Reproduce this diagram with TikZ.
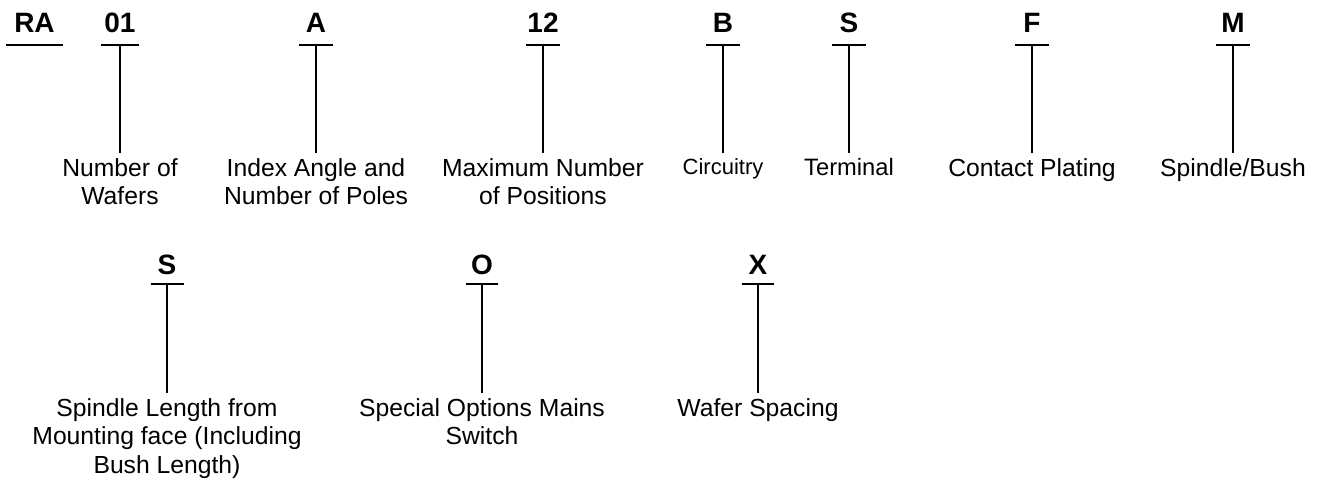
\documentclass[tikz,border=0pt]{standalone}
\usepackage{fontspec}
\setmainfont{Liberation Sans}

\begin{document}
\begin{tikzpicture}[x=1pt, y=-1pt, line width=1.8pt,
    code/.style={anchor=base, inner sep=0pt, font=\bfseries\fontsize{28}{30}\selectfont},
    desc/.style={anchor=north, align=center, inner sep=4.5pt, font=\fontsize{24.7}{28.6}\selectfont}]
  \useasboundingbox (0,0) rectangle (1318,481);

  % first row
  \node[code] (ra) at (34.5,33) {RA};
  \draw (6,45) -- (63,45);

  \node[code] (c01) at (120,33) {01};
  \coordinate (t01) at (120,45);
  \draw ([xshift=-19pt]t01) -- ([xshift=19pt]t01);
  \node[desc] (wafers) at (120,153) {Number of\\Wafers};
  \draw (t01) -- (wafers);

  \node[code] (ca) at (316,33) {A};
  \coordinate (ta) at (316,45);
  \draw ([xshift=-17pt]ta) -- ([xshift=17pt]ta);
  \node[desc] (poles) at (316,153) {Index Angle and\\Number of Poles};
  \draw (ta) -- (poles);

  \node[code] (c12) at (543,33) {12};
  \coordinate (t12) at (543,45);
  \draw ([xshift=-17pt]t12) -- ([xshift=17pt]t12);
  \node[desc] (positions) at (543,153) {Maximum Number\\of Positions};
  \draw (t12) -- (positions);

  \node[code] (cb) at (723,33) {B};
  \coordinate (tb) at (723,45);
  \draw ([xshift=-17pt]tb) -- ([xshift=17pt]tb);
  \node[desc, font=\fontsize{22}{26}\selectfont] (circuitry) at (723,153) {Circuitry};
  \draw (tb) -- (circuitry);

  \node[code] (cs) at (849,33) {S};
  \coordinate (ts) at (849,45);
  \draw ([xshift=-17pt]ts) -- ([xshift=17pt]ts);
  \node[desc, font=\fontsize{23.7}{28}\selectfont] (terminal) at (849,153) {Terminal};
  \draw (ts) -- (terminal);

  \node[code] (cf) at (1032,33) {F};
  \coordinate (tf) at (1032,45);
  \draw ([xshift=-17pt]tf) -- ([xshift=17pt]tf);
  \node[desc] (plating) at (1032,153) {Contact Plating};
  \draw (tf) -- (plating);

  \node[code] (cm) at (1233,33) {M};
  \coordinate (tm) at (1233,45);
  \draw ([xshift=-17pt]tm) -- ([xshift=17pt]tm);
  \node[desc] (bush) at (1233,153) {Spindle/Bush};
  \draw (tm) -- (bush);

  % second row
  \node[code] (cs2) at (167,275) {S};
  \coordinate (ts2) at (167,284);
  \draw ([xshift=-16.5pt]ts2) -- ([xshift=16.5pt]ts2);
  \node[desc] (length) at (167,393) {Spindle Length from\\Mounting face (Including\\Bush Length)};
  \draw (ts2) -- (length);

  \node[code] (co) at (482,275) {O};
  \coordinate (to) at (482,284);
  \draw ([xshift=-16pt]to) -- ([xshift=16pt]to);
  \node[desc] (options) at (482,393) {Special Options Mains\\Switch};
  \draw (to) -- (options);

  \node[code] (cx) at (758,275) {X};
  \coordinate (tx) at (758,284);
  \draw ([xshift=-16pt]tx) -- ([xshift=16pt]tx);
  \node[desc] (spacing) at (758,393) {Wafer Spacing};
  \draw (tx) -- (spacing);
\end{tikzpicture}
\end{document}
